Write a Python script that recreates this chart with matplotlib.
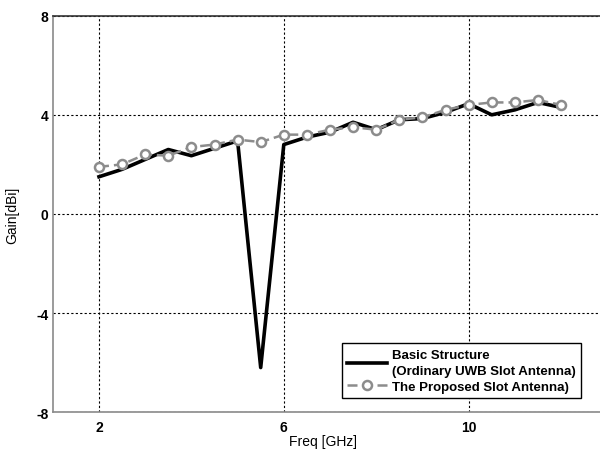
import matplotlib
matplotlib.use('Agg')
import matplotlib.pyplot as plt

plt.rcParams['font.family'] = ['Liberation Sans', 'DejaVu Sans']
plt.rcParams['axes.unicode_minus'] = False

# gain vs frequency, 0.5 GHz steps
freq = [2, 2.5, 3, 3.5, 4, 4.5, 5, 5.5, 6, 6.5, 7, 7.5, 8, 8.5, 9, 9.5, 10,
        10.5, 11, 11.5, 12]
gain_basic = [1.5, 1.8, 2.2, 2.6, 2.35, 2.65, 2.95, -6.2, 2.8, 3.1, 3.3, 3.7,
              3.4, 3.8, 3.85, 4.1, 4.45, 4.0, 4.2, 4.5, 4.3]
gain_proposed = [1.9, 2.0, 2.4, 2.35, 2.7, 2.8, 3.0, 2.9, 3.2, 3.2, 3.4, 3.5,
                 3.4, 3.8, 3.9, 4.2, 4.4, 4.5, 4.5, 4.6, 4.4]

fig = plt.figure(figsize=(6, 4.52), dpi=100)
ax = fig.add_axes([0.088, 0.086, 0.924, 0.877])

ax.plot(freq, gain_basic, color='black', lw=2.6,
        label='Basic Structure\n(Ordinary UWB Slot Antenna)')
ax.plot(freq, gain_proposed, color='#8c8c8c', lw=1.8, ls=(0, (4, 2)),
        marker='o', ms=6.5, mfc='white', mec='#8c8c8c', mew=1.8,
        label='The Proposed Slot Antenna)')

ax.set_xlim(1, 13)
ax.set_ylim(-8, 8)
ax.set_xticks([2, 6, 10])
ax.set_yticks([-8, -4, 0, 4, 8])
ax.tick_params(axis='x', length=0, labelsize=10, pad=6)
ax.tick_params(axis='y', length=0, labelsize=10, pad=3)
for lbl in ax.get_xticklabels() + ax.get_yticklabels():
    lbl.set_fontweight('bold')

ax.grid(True, color='black', ls=(0, (2, 2)), lw=0.8)
ax.set_axisbelow(True)

ax.spines['left'].set_color('#8a8a8a')
ax.spines['bottom'].set_color('#8a8a8a')
ax.spines['top'].set_color('#333333')
ax.spines['right'].set_visible(False)
for s in ax.spines.values():
    s.set_linewidth(1.2)

ax.set_xlabel('Freq [GHz]', fontsize=10)
ax.set_ylabel('Gain[dBi]', fontsize=10)
ax.xaxis.set_label_coords(0.488, -0.056)
ax.yaxis.set_label_coords(-0.06, 0.5)

leg = ax.legend(loc='lower right', bbox_to_anchor=(0.953, 0.035),
                borderaxespad=0, prop={'weight': 'bold', 'size': 9.5},
                handlelength=3.0, fancybox=False, framealpha=1,
                edgecolor='black', borderpad=0.4, labelspacing=0.3,
                handletextpad=0.4)
for t in leg.get_texts():
    t.set_linespacing(1.45)
leg.get_frame().set_linewidth(1.0)

fig.savefig('out.png', dpi=100)
